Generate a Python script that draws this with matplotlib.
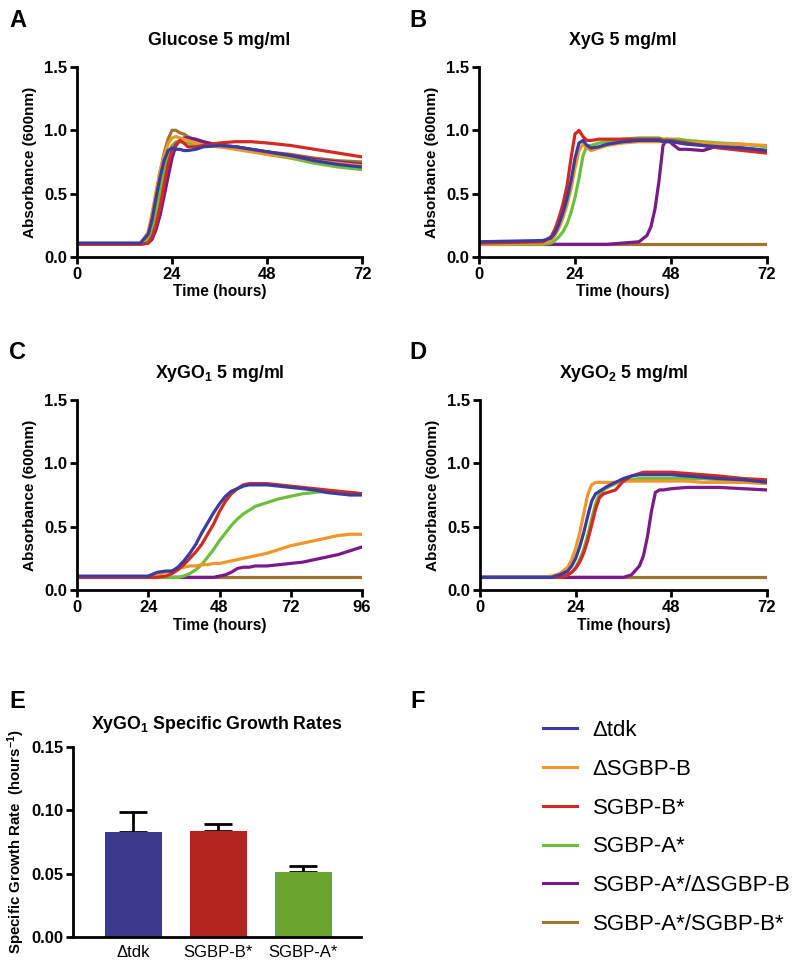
import matplotlib
matplotlib.use('Agg')
import matplotlib.pyplot as plt
import numpy as np

plt.rcParams['font.family'] = ['Liberation Sans', 'DejaVu Sans']
plt.rcParams['font.weight'] = 'bold'
plt.rcParams['axes.labelweight'] = 'bold'
plt.rcParams['axes.titleweight'] = 'bold'
plt.rcParams['mathtext.fontset'] = 'custom'
plt.rcParams['mathtext.default'] = 'bf'
plt.rcParams['mathtext.bf'] = 'Liberation Sans:bold'
plt.rcParams['mathtext.rm'] = 'Liberation Sans:bold'

strains = ['Δtdk', 'ΔSGBP-B', 'SGBP-B*', 'SGBP-A*', 'SGBP-A*/ΔSGBP-B', 'SGBP-A*/SGBP-B*']
colors = ['#3c3ca0', '#f0962a', '#d22a23', '#6cbf3c', '#7a1a88', '#a07334']

# panel A - glucose
ta = [0, 16, 18, 19, 20, 21, 22, 23, 24, 25, 26, 27, 28, 30, 32, 36, 40, 44, 48, 54, 60, 66, 72]
a_tdk = [0.11, 0.11, 0.18, 0.30, 0.47, 0.63, 0.76, 0.84, 0.86, 0.85, 0.85, 0.84, 0.84, 0.85, 0.87, 0.88, 0.87, 0.85, 0.83, 0.80, 0.76, 0.73, 0.71]
a_dsgbpb = [0.10, 0.10, 0.20, 0.35, 0.52, 0.68, 0.80, 0.89, 0.94, 0.95, 0.94, 0.93, 0.92, 0.90, 0.88, 0.87, 0.85, 0.83, 0.81, 0.79, 0.76, 0.74, 0.72]
a_sgbpb = [0.10, 0.10, 0.11, 0.16, 0.26, 0.40, 0.57, 0.73, 0.84, 0.89, 0.92, 0.90, 0.87, 0.87, 0.88, 0.90, 0.91, 0.91, 0.90, 0.88, 0.85, 0.82, 0.79]
a_sgbpa = [0.10, 0.10, 0.13, 0.22, 0.36, 0.52, 0.68, 0.81, 0.88, 0.91, 0.91, 0.90, 0.90, 0.89, 0.88, 0.87, 0.86, 0.84, 0.81, 0.78, 0.74, 0.71, 0.69]
a_double = [0.10, 0.10, 0.11, 0.14, 0.22, 0.33, 0.48, 0.63, 0.78, 0.88, 0.92, 0.94, 0.94, 0.93, 0.91, 0.88, 0.87, 0.85, 0.83, 0.80, 0.77, 0.75, 0.73]
a_ab = [0.10, 0.10, 0.17, 0.32, 0.50, 0.67, 0.82, 0.93, 1.00, 1.00, 0.98, 0.97, 0.95, 0.92, 0.90, 0.88, 0.87, 0.85, 0.83, 0.81, 0.78, 0.76, 0.75]

# panel B - XyG
tb = [0, 16, 18, 19, 20, 21, 22, 23, 24, 25, 26, 27, 28, 30, 32, 36, 40, 42, 43, 44, 45, 46, 47, 48, 50, 52, 56, 60, 66, 72]
b_tdk = [0.12, 0.13, 0.15, 0.19, 0.26, 0.35, 0.46, 0.60, 0.78, 0.90, 0.92, 0.88, 0.86, 0.87, 0.89, 0.91, 0.92, 0.92, 0.92, 0.92, 0.92, 0.91, 0.91, 0.91, 0.90, 0.89, 0.88, 0.87, 0.86, 0.84]
b_dsgbpb = [0.10, 0.11, 0.13, 0.17, 0.23, 0.31, 0.41, 0.54, 0.70, 0.84, 0.89, 0.86, 0.84, 0.86, 0.88, 0.90, 0.91, 0.91, 0.91, 0.91, 0.91, 0.91, 0.91, 0.91, 0.91, 0.90, 0.90, 0.89, 0.89, 0.88]
b_sgbpb = [0.11, 0.12, 0.16, 0.22, 0.31, 0.42, 0.56, 0.78, 0.97, 1.00, 0.95, 0.92, 0.92, 0.93, 0.93, 0.93, 0.93, 0.93, 0.93, 0.93, 0.93, 0.92, 0.92, 0.92, 0.91, 0.90, 0.88, 0.86, 0.84, 0.82]
b_sgbpa = [0.10, 0.10, 0.11, 0.13, 0.16, 0.20, 0.26, 0.35, 0.47, 0.62, 0.80, 0.88, 0.88, 0.90, 0.91, 0.93, 0.94, 0.94, 0.94, 0.94, 0.94, 0.93, 0.93, 0.93, 0.93, 0.92, 0.91, 0.90, 0.89, 0.87]
b_double = [0.10, 0.10, 0.10, 0.10, 0.10, 0.10, 0.10, 0.10, 0.10, 0.10, 0.10, 0.10, 0.10, 0.10, 0.10, 0.11, 0.12, 0.17, 0.24, 0.38, 0.60, 0.88, 0.93, 0.90, 0.85, 0.85, 0.84, 0.88, 0.86, 0.84]
b_ab = [0.10, 0.10, 0.10, 0.10, 0.10, 0.10, 0.10, 0.10, 0.10, 0.10, 0.10, 0.10, 0.10, 0.10, 0.10, 0.10, 0.10, 0.10, 0.10, 0.10, 0.10, 0.10, 0.10, 0.10, 0.10, 0.10, 0.10, 0.10, 0.10, 0.10]

# panel C - XyGO1
tc = [0, 24, 27, 30, 32, 34, 36, 38, 40, 42, 44, 46, 48, 50, 52, 54, 56, 58, 60, 64, 68, 72, 76, 80, 84, 88, 92, 96]
c_tdk = [0.11, 0.11, 0.14, 0.15, 0.15, 0.18, 0.23, 0.29, 0.36, 0.45, 0.53, 0.61, 0.68, 0.74, 0.78, 0.80, 0.82, 0.83, 0.83, 0.83, 0.82, 0.81, 0.80, 0.79, 0.77, 0.76, 0.75, 0.75]
c_dsgbpb = [0.10, 0.10, 0.12, 0.14, 0.15, 0.17, 0.18, 0.19, 0.19, 0.20, 0.20, 0.21, 0.21, 0.22, 0.23, 0.24, 0.25, 0.26, 0.27, 0.29, 0.32, 0.35, 0.37, 0.39, 0.41, 0.43, 0.44, 0.44]
c_sgbpb = [0.10, 0.10, 0.10, 0.11, 0.13, 0.16, 0.20, 0.25, 0.30, 0.36, 0.44, 0.52, 0.62, 0.70, 0.76, 0.80, 0.83, 0.84, 0.84, 0.84, 0.83, 0.82, 0.81, 0.80, 0.79, 0.78, 0.77, 0.76]
c_sgbpa = [0.10, 0.10, 0.10, 0.10, 0.10, 0.10, 0.11, 0.13, 0.16, 0.20, 0.26, 0.32, 0.39, 0.45, 0.51, 0.56, 0.60, 0.63, 0.66, 0.69, 0.72, 0.74, 0.76, 0.77, 0.78, 0.77, 0.77, 0.76]
c_double = [0.10, 0.10, 0.10, 0.10, 0.10, 0.10, 0.10, 0.10, 0.10, 0.10, 0.10, 0.10, 0.11, 0.12, 0.14, 0.17, 0.18, 0.18, 0.19, 0.19, 0.20, 0.21, 0.22, 0.24, 0.26, 0.28, 0.31, 0.34]
c_ab = [0.10, 0.10, 0.10, 0.10, 0.10, 0.10, 0.10, 0.10, 0.10, 0.10, 0.10, 0.10, 0.10, 0.10, 0.10, 0.10, 0.10, 0.10, 0.10, 0.10, 0.10, 0.10, 0.10, 0.10, 0.10, 0.10, 0.10, 0.10]

# panel D - XyGO2
td = [0, 16, 18, 20, 22, 23, 24, 25, 26, 27, 28, 29, 30, 31, 32, 34, 36, 38, 40, 41, 42, 43, 44, 45, 46, 48, 52, 56, 60, 66, 72]
d_tdk = [0.10, 0.10, 0.10, 0.12, 0.15, 0.19, 0.25, 0.34, 0.45, 0.58, 0.70, 0.76, 0.78, 0.80, 0.82, 0.85, 0.88, 0.90, 0.91, 0.91, 0.91, 0.91, 0.91, 0.91, 0.91, 0.91, 0.90, 0.89, 0.88, 0.87, 0.85]
d_dsgbpb = [0.10, 0.10, 0.11, 0.13, 0.18, 0.24, 0.33, 0.45, 0.60, 0.75, 0.83, 0.85, 0.85, 0.85, 0.85, 0.85, 0.86, 0.86, 0.86, 0.86, 0.86, 0.86, 0.86, 0.86, 0.86, 0.86, 0.86, 0.85, 0.85, 0.85, 0.84]
d_sgbpb = [0.10, 0.10, 0.10, 0.10, 0.12, 0.14, 0.17, 0.22, 0.29, 0.39, 0.51, 0.64, 0.73, 0.76, 0.77, 0.79, 0.86, 0.90, 0.92, 0.93, 0.93, 0.93, 0.93, 0.93, 0.93, 0.93, 0.92, 0.91, 0.90, 0.88, 0.87]
d_sgbpa = [0.10, 0.10, 0.10, 0.10, 0.12, 0.14, 0.18, 0.24, 0.32, 0.43, 0.56, 0.68, 0.76, 0.79, 0.81, 0.84, 0.86, 0.87, 0.88, 0.88, 0.88, 0.88, 0.88, 0.88, 0.88, 0.88, 0.88, 0.88, 0.87, 0.86, 0.85]
d_double = [0.10, 0.10, 0.10, 0.10, 0.10, 0.10, 0.10, 0.10, 0.10, 0.10, 0.10, 0.10, 0.10, 0.10, 0.10, 0.10, 0.10, 0.12, 0.19, 0.27, 0.42, 0.62, 0.77, 0.79, 0.79, 0.80, 0.81, 0.81, 0.81, 0.80, 0.79]
d_ab = [0.10, 0.10, 0.10, 0.10, 0.10, 0.10, 0.10, 0.10, 0.10, 0.10, 0.10, 0.10, 0.10, 0.10, 0.10, 0.10, 0.10, 0.10, 0.10, 0.10, 0.10, 0.10, 0.10, 0.10, 0.10, 0.10, 0.10, 0.10, 0.10, 0.10, 0.10]

# panel E - growth rates
e_strains = ['Δtdk', 'SGBP-B*', 'SGBP-A*']
e_rate = [0.083, 0.084, 0.051]
e_sd = [0.016, 0.005, 0.005]
e_colors = ['#3b3a8c', '#b3241e', '#6aa42c']


def style(ax):
    for s in ['top', 'right']:
        ax.spines[s].set_visible(False)
    for s in ['left', 'bottom']:
        ax.spines[s].set_linewidth(2)
    ax.tick_params(width=2, length=5, labelsize=12, pad=2)


def growth_panel(ax, t, curves, title, xmax):
    # draw back to front so blue sits on top like the original
    order = [5, 4, 3, 1, 2, 0]
    for i in order:
        ax.plot(t, curves[i], color=colors[i], lw=2.3, solid_capstyle='round')
    ax.set_xlim(0, xmax)
    ax.set_ylim(0, 1.5)
    ax.set_xticks(np.arange(0, xmax + 1, 24))
    ax.set_yticks([0.0, 0.5, 1.0, 1.5])
    ax.set_yticklabels(['0.0', '0.5', '1.0', '1.5'])
    ax.set_xlabel('Time (hours)', fontsize=11.2, labelpad=2)
    ax.set_ylabel('Absorbance (600nm)', fontsize=11, labelpad=5)
    ax.set_title(title, fontsize=12.8, pad=16)
    style(ax)


fig = plt.figure(figsize=(8, 9.69), dpi=100)

axA = fig.add_axes([0.09625, 0.7348, 0.35625, 0.1961])
axB = fig.add_axes([0.59875, 0.7348, 0.36, 0.1961])
axC = fig.add_axes([0.09625, 0.3911, 0.35625, 0.1961])
axD = fig.add_axes([0.6, 0.3911, 0.35875, 0.1961])
axE = fig.add_axes([0.09125, 0.033, 0.36, 0.1961])

growth_panel(axA, ta, [a_tdk, a_dsgbpb, a_sgbpb, a_sgbpa, a_double, a_ab], 'Glucose 5 mg/ml', 72)
growth_panel(axB, tb, [b_tdk, b_dsgbpb, b_sgbpb, b_sgbpa, b_double, b_ab], 'XyG 5 mg/ml', 72)
growth_panel(axC, tc, [c_tdk, c_dsgbpb, c_sgbpb, c_sgbpa, c_double, c_ab], r'XyGO$_1$ 5 mg/ml', 96)
growth_panel(axD, td, [d_tdk, d_dsgbpb, d_sgbpb, d_sgbpa, d_double, d_ab], r'XyGO$_2$ 5 mg/ml', 72)

# bar chart
xe = np.arange(len(e_strains))
axE.errorbar(xe, e_rate, yerr=[np.zeros(len(e_sd)), e_sd], fmt='none', ecolor='black',
             elinewidth=2, capsize=10, capthick=2, zorder=1)
axE.bar(xe, e_rate, width=0.67, color=e_colors, zorder=2)
axE.set_xlim(-0.706, 2.68)
axE.set_ylim(0, 0.15)
axE.set_yticks([0.0, 0.05, 0.10, 0.15])
axE.set_yticklabels(['0.00', '0.05', '0.10', '0.15'])
axE.set_xticks(xe)
axE.set_xticklabels(e_strains, fontweight='normal', fontsize=10)
style(axE)
axE.tick_params(axis='x', length=0, pad=6)
axE.set_ylabel(r'Specific Growth Rate  (hours$^{-1}$)', fontsize=10.8, labelpad=3)
axE.set_title(r'XyGO$_1$ Specific Growth Rates', fontsize=12.8, pad=13)

# legend panel
handles = [plt.Line2D([], [], color=c, lw=2.2) for c in colors]
fig.legend(handles, strains, loc='upper left', bbox_to_anchor=(0.679, 0.257),
           frameon=False, borderpad=0, borderaxespad=0, handlelength=1.5,
           handletextpad=0.72, labelspacing=0.8,
           prop={'family': ['Liberation Sans', 'DejaVu Sans'], 'weight': 'normal', 'size': 16})

for letter, x, y in [('A', 0.022, 0.979), ('B', 0.522, 0.979), ('C', 0.022, 0.636),
                     ('D', 0.522, 0.636), ('E', 0.022, 0.276), ('F', 0.522, 0.276)]:
    fig.text(x, y, letter, fontsize=17, fontweight='bold', va='center', ha='center')

fig.savefig('out.png', dpi=100)
